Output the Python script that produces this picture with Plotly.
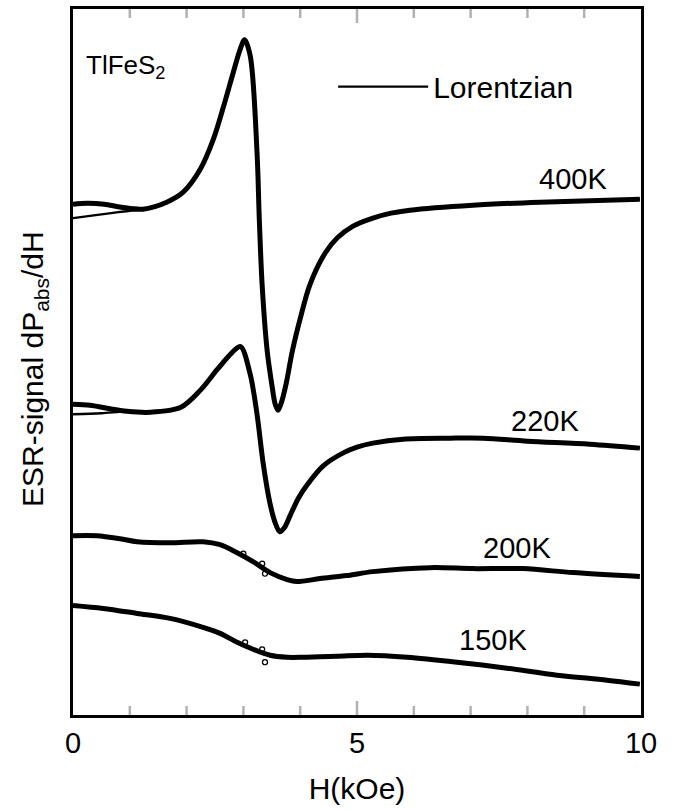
import plotly.graph_objects as go

# ESR derivative spectra of TlFeS2 (field in kOe, signal in arbitrary units, curves offset vertically)

# 400 K
h_400 = [0.00, 0.25, 0.55, 0.85, 1.23, 1.65, 1.94, 2.24, 2.47, 2.65, 2.82, 2.94, 3.02, 3.12,
         3.24, 3.28, 3.33, 3.42, 3.50, 3.56, 3.61, 3.67, 3.75, 3.86, 4.00, 4.17, 4.44, 4.65,
         4.93, 5.28, 5.60, 5.93, 7.04, 8.22, 9.98]
s_400 = [51.3, 51.4, 51.3, 51.0, 50.8, 51.5, 52.5, 54.8, 57.8, 61.1, 64.5, 66.8, 67.8, 66.2,
         56.5, 49.8, 43.2, 36.5, 33.2, 31.2, 30.6, 31.4, 33.2, 36.5, 39.8, 43.2, 46.4, 47.9,
         49.1, 49.9, 50.4, 50.7, 51.2, 51.5, 51.8]

# 220 K
h_220 = [0.00, 0.30, 0.60, 0.95, 1.36, 1.90, 2.24, 2.54, 2.80, 2.95, 3.12, 3.24, 3.35, 3.47,
         3.56, 3.64, 3.72, 3.82, 3.97, 4.12, 4.40, 4.75, 5.00, 5.28, 5.81, 6.64, 7.22, 8.00,
         9.10, 9.98]
s_220 = [31.2, 31.1, 30.8, 30.5, 30.4, 30.9, 32.6, 34.7, 36.4, 37.0, 34.2, 30.2, 25.2, 21.2,
         19.3, 18.4, 18.8, 20.0, 21.8, 23.1, 25.0, 26.3, 26.9, 27.3, 27.7, 27.8, 27.8, 27.5,
         27.2, 26.8]

# 200 K
h_200 = [0.00, 0.42, 0.83, 1.13, 1.71, 2.29, 2.59, 2.89, 3.17, 3.47, 3.77, 3.94, 4.35, 4.82,
         5.28, 6.29, 7.04, 7.92, 8.80, 9.98]
s_200 = [18.0, 18.0, 17.7, 17.4, 17.3, 17.4, 17.1, 16.3, 15.4, 14.3, 13.6, 13.4, 13.7, 14.0,
         14.4, 14.8, 14.7, 14.7, 14.3, 13.9]

# 150 K
h_150 = [0.00, 0.53, 1.13, 1.71, 2.29, 2.59, 2.89, 3.17, 3.47, 3.77, 4.05, 4.65, 5.19, 5.88,
         6.76, 7.64, 8.52, 9.40, 9.98]
s_150 = [11.0, 10.7, 10.2, 9.7, 8.8, 8.2, 7.3, 6.6, 6.0, 5.8, 5.8, 5.9, 6.0, 5.8,
         5.3, 4.7, 4.0, 3.5, 3.1]

# scattered points lying off the 200 K and 150 K traces
h_out = [3.00, 3.33, 3.38, 3.03, 3.33, 3.38]
s_out = [16.2, 15.2, 14.2, 7.3, 6.6, 5.3]

# Lorentzian fits: low-field branch, the fit follows the data above the merge field
fit_400_h_low = [0.00, 0.40, 0.80]
fit_400_s_low = [49.9, 50.2, 50.5]
fit_400_merge = 1.2
fit_220_h_low = [0.00, 0.50]
fit_220_s_low = [30.2, 30.3]
fit_220_merge = 0.9

temps = ["400K", "220K", "200K", "150K"]
label_h = [8.80, 8.31, 7.82, 7.39]
label_s = [53.8, 29.5, 16.8, 7.5]

x_range = [0, 10]
x_ticks = list(range(0, 11))          # every 1 kOe
x_labelled = [0, 5, 10]               # labelled, long ticks

FONT = "Liberation Sans, Arial, Helvetica, sans-serif"
MAJOR_LEN, MINOR_LEN, TICK_W = 14, 9, 2.5

fig = go.Figure()

for h, s in [(h_400, s_400), (h_220, s_220), (h_200, s_200), (h_150, s_150)]:
    fig.add_trace(go.Scatter(
        x=h, y=s, mode="lines", showlegend=False,
        line=dict(color="black", width=5, shape="spline", smoothing=0.9),
        hoverinfo="skip"))

fig.add_trace(go.Scatter(
    x=h_out, y=s_out, mode="markers", showlegend=False, hoverinfo="skip",
    marker=dict(symbol="circle-open", size=5, color="black", line=dict(width=1.3))))


def fit_curve(h_low, s_low, merge, h_data, s_data):
    hh = list(h_low) + [x for x in h_data if x >= merge]
    ss = list(s_low) + [y for x, y in zip(h_data, s_data) if x >= merge]
    return hh, ss


fh, fs = fit_curve(fit_400_h_low, fit_400_s_low, fit_400_merge, h_400, s_400)
fig.add_trace(go.Scatter(
    x=fh, y=fs, mode="lines", name="Lorentzian", showlegend=True,
    line=dict(color="black", width=2.4, shape="spline", smoothing=0.9)))
fh, fs = fit_curve(fit_220_h_low, fit_220_s_low, fit_220_merge, h_220, s_220)
fig.add_trace(go.Scatter(
    x=fh, y=fs, mode="lines", showlegend=False,
    line=dict(color="black", width=2.4, shape="spline", smoothing=0.9)))

# inward tick marks on the bottom and top frame edges, placed on the field axis
for v in x_ticks:
    if v in (x_range[0], x_range[1]):
        continue
    length = MAJOR_LEN if v in x_labelled else MINOR_LEN
    for edge, sign in ((0, 1), (1, -1)):
        fig.add_shape(type="line", xref="x", yref="paper", x0=v, x1=v,
                      ysizemode="pixel", yanchor=edge, y0=0, y1=sign * length,
                      line=dict(color="black", width=TICK_W), layer="above")

for t, hx, sy in zip(temps, label_h, label_s):
    fig.add_annotation(x=hx, y=sy, text=t, showarrow=False,
                       font=dict(family=FONT, size=29, color="black"))

fig.add_annotation(x=0.2, y=65.1, text="TlFeS<sub>2</sub>", showarrow=False,
                   xanchor="left", font=dict(family=FONT, size=26, color="black"))

fig.add_annotation(xref="paper", yref="paper", x=-0.105, y=0.49, textangle=-90,
                   text="ESR-signal dP<sub>abs</sub>/dH", showarrow=False,
                   font=dict(family=FONT, size=30, color="black"))

fig.update_layout(
    template="simple_white",
    width=680, height=810,
    margin=dict(l=73, r=39, t=6, b=95),
    paper_bgcolor="white", plot_bgcolor="white",
    font=dict(family=FONT, color="black"),
    legend=dict(x=0.458, y=0.890, xanchor="left", yanchor="middle",
                bgcolor="rgba(0,0,0,0)", font=dict(family=FONT, size=30),
                itemwidth=90),
    xaxis=dict(
        range=x_range, tickmode="array", tickvals=x_labelled,
        ticktext=[str(v) for v in x_labelled],
        ticks="", showline=True, linewidth=2.5, linecolor="black", mirror=True,
        showgrid=False, zeroline=False,
        tickfont=dict(family=FONT, size=29, color="black"),
        title=dict(text="H(kOe)", font=dict(family=FONT, size=30, color="black"),
                   standoff=21),
    ),
    yaxis=dict(
        range=[0, 70.9], showline=True, linewidth=2.5, linecolor="black", mirror=True,
        ticks="", showticklabels=False, showgrid=False, zeroline=False,
    ),
)

fig.write_html("out.html")
